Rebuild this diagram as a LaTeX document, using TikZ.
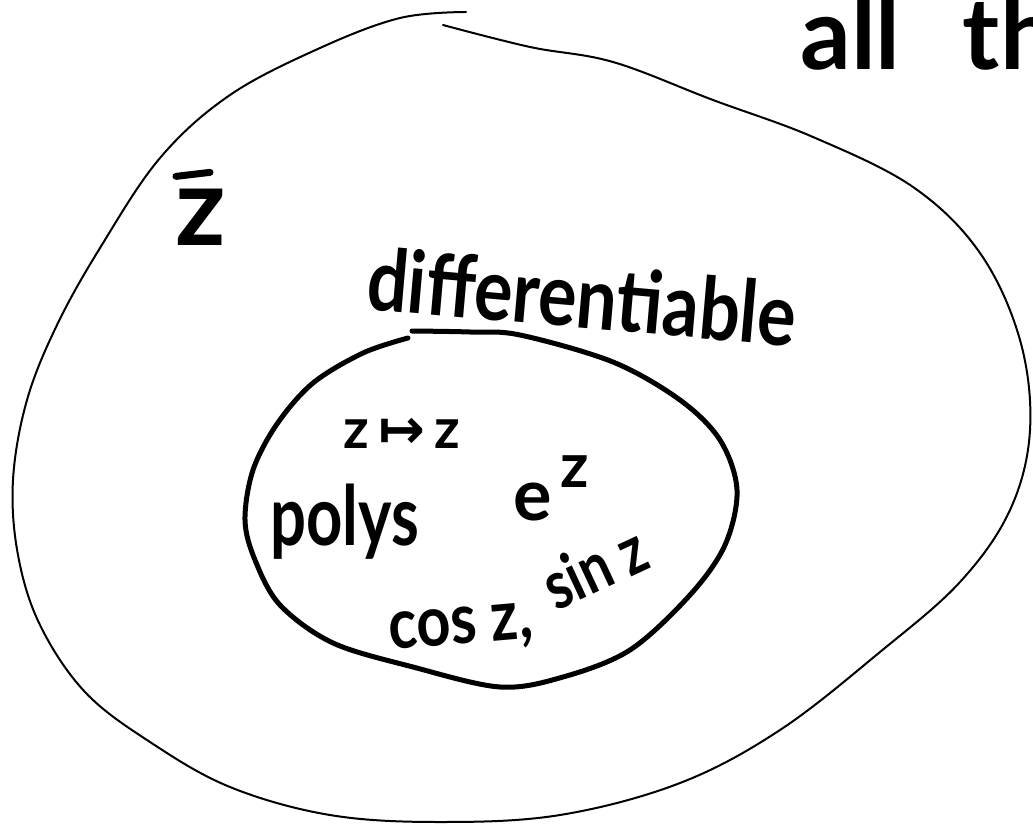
\documentclass[tikz,border=0pt]{standalone}
\usepackage{fontspec}
\setmainfont{Lato}
\newfontfamily\dejavu{DejaVu Sans}
\begin{document}
\begin{tikzpicture}[x=1pt,y=-1pt,
  hw/.style={inner sep=0pt, font=\bfseries},
  outerline/.style={line width=2pt, line cap=round, line join=round},
  innerline/.style={line width=5pt, line cap=round, line join=round},
  barline/.style={line width=7pt, line cap=round}]
\useasboundingbox (0,0) rectangle (1033,826);
% outer region
\draw[outerline] plot[smooth, tension=0.6] coordinates {
 (443,25) (530,47) (613,62) (713,100) (813,137) (913,187) (980,253)
 (1020,340) (1030,430) (1010,510) (960,582) (880,652) (780,730) (680,783)
 (560,815) (440,822) (330,815) (230,787) (150,742) (85,692) (40,625)
 (18,555) (13,480) (27,400) (57,325) (100,248) (160,158) (230,95)
 (320,48) (400,18) (466,12)};
% inner region
\draw[innerline] plot[smooth, tension=0.55] coordinates {
 (412,331) (470,332) (520,335) (613,362) (680,400) (720,440) (737,490)
 (725,545) (690,595) (630,650) (563,677) (500,687) (413,667) (333,643)
 (280,605) (255,560) (245,520) (253,470) (277,424) (313,383) (363,353) (408,338)};
% labels
\node[hw, anchor=base west, font=\fontsize{100}{110}\selectfont\bfseries] (all) at (800,70) {all\hspace{62pt}the};
\node[hw, anchor=base, font=\fontsize{110}{120}\selectfont\bfseries] (zbar) at (201,246) {z};
\draw[barline] ([xshift=-25pt,yshift=13pt]zbar.north) -- ([xshift=9pt,yshift=17pt]zbar.north);
\node[hw, anchor=base west, rotate=-5, font=\fontsize{72}{75}\selectfont\bfseries] (diff) at (365,309) {\scalebox{1}[1.2]{differentiable}};
\node[hw, anchor=base, font=\fontsize{56}{60}\selectfont\bfseries] (map) at (402,448) {z\,{\dejavu\bfseries ↦}\,z};
\node[hw, anchor=base west, font=\fontsize{72}{75}\selectfont\bfseries] (polys) at (270,545) {\scalebox{0.88}[1.15]{polys}};
\node[hw, anchor=base west, font=\fontsize{72}{75}\selectfont\bfseries] (ez) at (513,520) {e};
\node[hw, anchor=base west, font=\fontsize{62}{65}\selectfont\bfseries] (ezs) at (560,487) {z};
\node[hw, anchor=base west, rotate=5, font=\fontsize{70}{72}\selectfont\bfseries] (cos) at (390,650) {\scalebox{0.85}[1]{cos z,}};
\node[hw, anchor=base west, rotate=25, font=\fontsize{64}{66}\selectfont\bfseries] (sin) at (556,612) {\scalebox{0.85}[1.05]{sin z}};
\end{tikzpicture}
\end{document}
